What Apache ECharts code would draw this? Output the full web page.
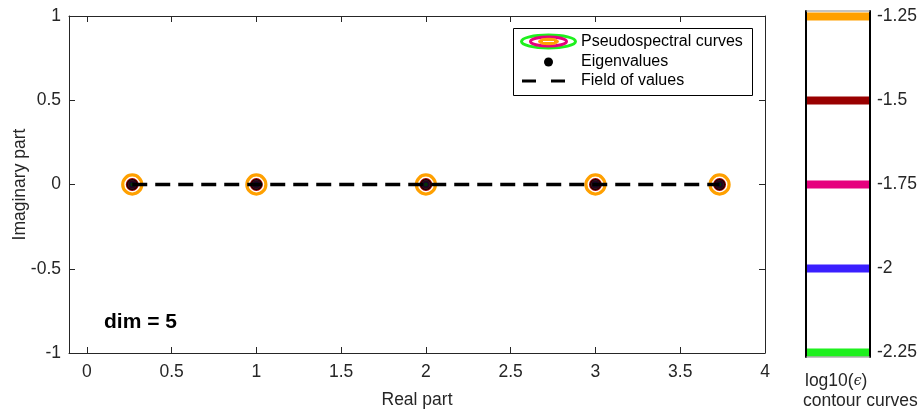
<!DOCTYPE html>
<html>
<head>
<meta charset="utf-8">
<script src="https://cdn.jsdelivr.net/npm/echarts@6/dist/echarts.min.js"></script>
<style>html,body{margin:0;padding:0;background:#fff}#c{width:922px;height:414px}</style>
</head>
<body>
<div id="c"></div>
<script>
// ---- data ----
const eigReal = [0.268, 1, 2, 3, 3.732];
const eigImag = [0, 0, 0, 0, 0];
const fovReal = [0.268, 3.732];
const fovImag = [0, 0];
const contourLevels = [-1.25, -1.5, -1.75, -2, -2.25];   // log10(eps)
const xTicks = [0, 0.5, 1, 1.5, 2, 2.5, 3, 3.5, 4];
const yTicks = [-1, -0.5, 0, 0.5, 1];
const cbTicks = [-2.25, -2, -1.75, -1.5, -1.25];

// ---- styles ----
const levelColors = ['#FFA000', '#990000', '#E6007E', '#3A1FFF', '#1EF01E'];
const levelWidths = [3.2, 2.2, 2, 2, 2];
const FONT = 'Liberation Sans, Arial, Helvetica, sans-serif';
const AX = '#262626';
const FS = 17.5;

const chart = echarts.init(document.getElementById('c'), null, {renderer: 'canvas'});

const ringSeries = contourLevels.map((lv, i) => ({
  type: 'custom',
  xAxisIndex: 0, yAxisIndex: 0,
  z: 2 + i * 0.01,
  silent: true,
  data: eigReal.map((x, k) => [x, eigImag[k], Math.pow(10, lv)]),
  renderItem: function (params, api) {
    const c = api.coord([api.value(0), api.value(1)]);
    const s = api.size([api.value(2), api.value(2)]);
    return {
      type: 'circle',
      shape: {cx: c[0], cy: c[1], r: s[0]},
      style: {fill: 'none', stroke: levelColors[i], lineWidth: levelWidths[i]}
    };
  }
}));

const cbSeries = contourLevels.map((lv, i) => ({
  type: 'line',
  xAxisIndex: 2, yAxisIndex: 2,
  silent: true, symbol: 'none',
  data: [[0, lv], [1, lv]],
  lineStyle: {color: levelColors[i], width: 8},
  z: 2
}));

const option = {
  animation: false,
  backgroundColor: '#fff',
  textStyle: {fontFamily: FONT},
  grid: [
    {left: 69, top: 16, width: 696, height: 337, containLabel: false, outerBoundsMode: 'none'},
    {left: 806, top: 11, width: 64, height: 346, containLabel: false, outerBoundsMode: 'none'}
  ],
  xAxis: [
    {
      gridIndex: 0, type: 'value', min: -0.105, max: 4, position: 'bottom',
      name: 'Real part', nameLocation: 'middle', nameGap: 38, nameMoveOverlap: false,
      nameTextStyle: {fontFamily: FONT, fontSize: FS, color: AX},
      axisLine: {show: true, onZero: false, lineStyle: {color: AX, width: 1}},
      axisTick: {show: true, inside: true, length: 6, customValues: xTicks, lineStyle: {color: AX}},
      axisLabel: {show: true, customValues: xTicks, margin: 10, fontFamily: FONT, fontSize: FS, color: AX},
      splitLine: {show: false}
    },
    {
      gridIndex: 0, type: 'value', min: -0.105, max: 4, position: 'top',
      axisLine: {show: true, onZero: false, lineStyle: {color: AX, width: 1}},
      axisTick: {show: true, inside: true, length: 6, customValues: xTicks, lineStyle: {color: AX}},
      axisLabel: {show: false},
      splitLine: {show: false}
    },
    {
      gridIndex: 1, type: 'value', min: 0, max: 1, show: false
    }
  ],
  yAxis: [
    {
      gridIndex: 0, type: 'value', min: -1, max: 1, interval: 0.5, position: 'left',
      name: 'Imaginary part', nameLocation: 'middle', nameGap: 40, nameRotate: 90, nameMoveOverlap: false,
      nameTextStyle: {fontFamily: FONT, fontSize: FS, color: AX},
      axisLine: {show: true, onZero: false, lineStyle: {color: AX, width: 1}},
      axisTick: {show: true, inside: true, length: 6, lineStyle: {color: AX}},
      axisLabel: {show: true, margin: 8, fontFamily: FONT, fontSize: FS, color: AX},
      splitLine: {show: false}
    },
    {
      gridIndex: 0, type: 'value', min: -1, max: 1, interval: 0.5, position: 'right',
      axisLine: {show: true, onZero: false, lineStyle: {color: AX, width: 1}},
      axisTick: {show: true, inside: true, length: 6, lineStyle: {color: AX}},
      axisLabel: {show: false},
      splitLine: {show: false}
    },
    {
      gridIndex: 1, type: 'value', min: -2.2634, max: -1.2336, position: 'right',
      z: 10,
      axisLine: {show: true, onZero: false, lineStyle: {color: '#000', width: 2}},
      axisTick: {show: false},
      axisLabel: {show: true, customValues: cbTicks, margin: 7, fontFamily: FONT, fontSize: FS, color: AX,
        formatter: v => String(v)},
      splitLine: {show: false}
    },
    {
      gridIndex: 1, type: 'value', min: -2.2634, max: -1.2336, position: 'left',
      z: 10,
      axisLine: {show: true, onZero: false, lineStyle: {color: '#000', width: 2}},
      axisTick: {show: false}, axisLabel: {show: false}, splitLine: {show: false}
    }
  ],
  series: [
    ...ringSeries,
    {
      type: 'scatter', xAxisIndex: 0, yAxisIndex: 0, silent: true,
      data: eigReal.map((x, k) => [x, eigImag[k]]),
      symbol: 'circle', symbolSize: 11,
      itemStyle: {color: '#000'}, z: 4
    },
    {
      type: 'line', xAxisIndex: 0, yAxisIndex: 0, silent: true, symbol: 'none',
      data: fovReal.map((x, k) => [x, fovImag[k]]),
      lineStyle: {color: '#000', width: 3.5, type: [15, 8]}, z: 5
    },
    ...cbSeries
  ],
  graphic: [
    // colorbar top/bottom edges
    {type: 'line', z: 20, shape: {x1: 806, y1: 11, x2: 870, y2: 11}, style: {stroke: '#888', lineWidth: 1}},
    {type: 'line', z: 20, shape: {x1: 806, y1: 357, x2: 870, y2: 357}, style: {stroke: '#888', lineWidth: 1}},
    // colorbar caption
    {type: 'text', left: 805, top: 372, z: 20,
      style: {text: '{a|log10(}{b|ϵ}{a|)}', rich: {
        a: {fontFamily: FONT, fontSize: FS, fill: AX},
        b: {fontFamily: 'DejaVu Serif, serif', fontStyle: 'italic', fontSize: 14, fill: AX}
      }}},
    {type: 'text', left: 803, top: 392, z: 20,
      style: {text: 'contour curves', fontFamily: FONT, fontSize: FS, fill: AX}},
    // dim label
    {type: 'text', left: 104, top: 312, z: 20,
      style: {text: 'dim = 5', fontFamily: FONT, fontSize: 21, fontWeight: 'bold', fill: '#000'}},
    // legend box
    {type: 'group', z: 30, children: [
      {type: 'rect', shape: {x: 513.5, y: 28.5, width: 239, height: 67}, style: {fill: '#fff', stroke: '#000', lineWidth: 1}},
      {type: 'ellipse', shape: {cx: 548.5, cy: 41.5, rx: 27, ry: 6.5}, style: {fill: '#fff', stroke: '#1EF01E', lineWidth: 3}},
      {type: 'ellipse', shape: {cx: 548.5, cy: 41.5, rx: 18, ry: 4.5}, style: {fill: '#fff', stroke: '#E6007E', lineWidth: 3}},
      {type: 'ellipse', shape: {cx: 548.5, cy: 41.5, rx: 10, ry: 3.2}, style: {fill: '#FFA000', stroke: '#FFA000', lineWidth: 1}},
      {type: 'line', shape: {x1: 543, y1: 41.5, x2: 554, y2: 41.5}, style: {stroke: '#fff', lineWidth: 1}},
      {type: 'circle', shape: {cx: 548.5, cy: 62, r: 4.5}, style: {fill: '#000'}},
      {type: 'line', shape: {x1: 522, y1: 81, x2: 536, y2: 81}, style: {stroke: '#000', lineWidth: 3}},
      {type: 'line', shape: {x1: 551, y1: 81, x2: 565, y2: 81}, style: {stroke: '#000', lineWidth: 3}},
      {type: 'text', left: 581, top: 34, style: {text: 'Pseudospectral curves', fontFamily: FONT, fontSize: 16, fill: '#000'}},
      {type: 'text', left: 581, top: 54, style: {text: 'Eigenvalues', fontFamily: FONT, fontSize: 16, fill: '#000'}},
      {type: 'text', left: 581, top: 73, style: {text: 'Field of values', fontFamily: FONT, fontSize: 16, fill: '#000'}}
    ]}
  ]
};
chart.setOption(option);
</script>
</body>
</html>
